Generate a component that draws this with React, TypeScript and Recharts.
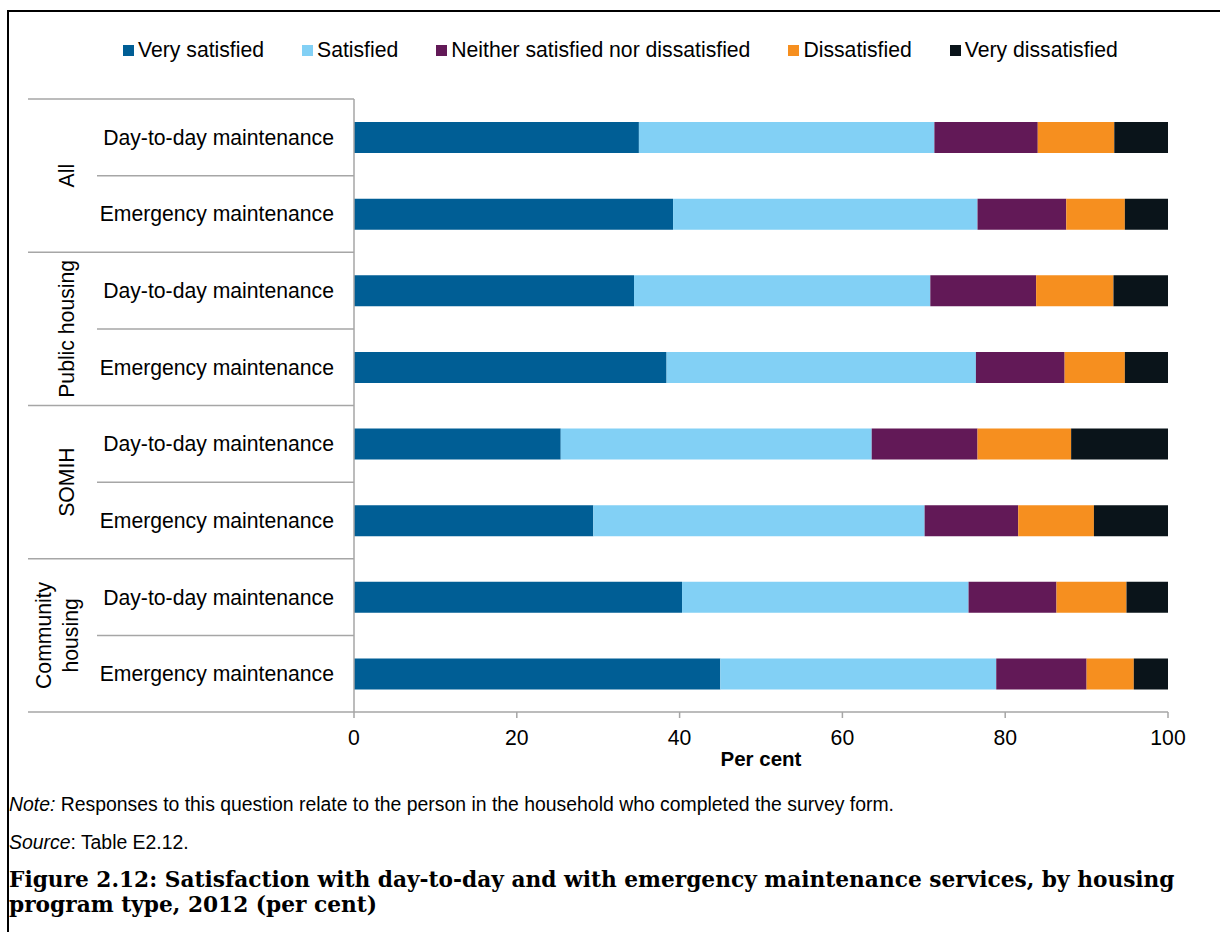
import React from 'react';
import { BarChart, Bar, XAxis, YAxis } from 'recharts';

const groups = ['All', 'Public housing', 'SOMIH', 'Community housing'];
const services = ['Day-to-day maintenance', 'Emergency maintenance'];

const seriesNames = [
  'Very satisfied',
  'Satisfied',
  'Neither satisfied nor dissatisfied',
  'Dissatisfied',
  'Very dissatisfied'
];

// one value per row: All DtD, All Emerg, Public DtD, Public Emerg, SOMIH DtD, SOMIH Emerg, Community DtD, Community Emerg
const verySatisfied = [35.0, 39.2, 34.4, 38.4, 25.4, 29.4, 40.3, 45.0];
const satisfied = [36.3, 37.4, 36.4, 38.0, 38.2, 40.7, 35.2, 33.9];
const neither = [12.7, 10.9, 13.0, 10.9, 13.0, 11.5, 10.8, 11.1];
const dissatisfied = [9.4, 7.2, 9.5, 7.4, 11.5, 9.3, 8.6, 5.8];
const veryDissatisfied = [6.6, 5.3, 6.7, 5.3, 11.9, 9.1, 5.1, 4.2];

const xTicks = [0, 20, 40, 60, 80, 100];

const colors = ['#005E95', '#82D0F5', '#621957', '#F68F1F', '#0A141A'];
const seriesValues = [verySatisfied, satisfied, neither, dissatisfied, veryDissatisfied];
const seriesKeys = ['vs', 's', 'n', 'd', 'vd'];

const data = groups.flatMap((g, gi) =>
  services.map((s, si) => {
    const row: any = { key: `${gi}|${si}|${s}` };
    const idx = gi * services.length + si;
    seriesKeys.forEach((k, ki) => {
      row[k] = seriesValues[ki][idx];
    });
    return row;
  })
);

const FONT = '"Liberation Sans", Arial, sans-serif';
const GRID = '#A6A6A6';
const LABEL_SIZE = 21.2;

const CHART_W = 1220;
const CHART_H = 932;
const PLOT_TOP = 99;
const PLOT_BOTTOM = 712;
const AXIS_X = 354;
const LEFT_EDGE = 28;
const band = (PLOT_BOTTOM - PLOT_TOP) / data.length;

const CategoryTick = (props: any) => {
  const { y, payload } = props;
  const [gi, si, label] = String(payload.value).split('|');
  const groupIdx = Number(gi);
  const serviceIdx = Number(si);
  const isLastInGroup = serviceIdx === services.length - 1;
  const lineY = y + band / 2;
  const groupName = groups[groupIdx];
  const groupCenter = y + band / 2;
  return (
    <g>
      <text
        x={334}
        y={y}
        textAnchor="end"
        dominantBaseline="central"
        fontSize={LABEL_SIZE}
        fontFamily={FONT}
        fill="#000"
      >
        {label}
      </text>
      <line
        x1={isLastInGroup ? LEFT_EDGE : 97}
        x2={AXIS_X}
        y1={lineY}
        y2={lineY}
        stroke={GRID}
        strokeWidth={1.5}
      />
      {groupIdx === 0 && serviceIdx === 0 && (
        <line x1={LEFT_EDGE} x2={AXIS_X} y1={y - band / 2} y2={y - band / 2} stroke={GRID} strokeWidth={1.5} />
      )}
      {serviceIdx === 0 &&
        (groupName === 'Community housing' ? (
          <g>
            <text
              transform={`translate(43, ${groupCenter}) rotate(-90)`}
              textAnchor="middle"
              dominantBaseline="central"
              fontSize={LABEL_SIZE}
              fontFamily={FONT}
              fill="#000"
            >
              Community
            </text>
            <text
              transform={`translate(70, ${groupCenter}) rotate(-90)`}
              textAnchor="middle"
              dominantBaseline="central"
              fontSize={LABEL_SIZE}
              fontFamily={FONT}
              fill="#000"
            >
              housing
            </text>
          </g>
        ) : (
          <text
            transform={`translate(66, ${groupCenter}) rotate(-90)`}
            textAnchor="middle"
            dominantBaseline="central"
            fontSize={LABEL_SIZE}
            fontFamily={FONT}
            fill="#000"
          >
            {groupName}
          </text>
        ))}
    </g>
  );
};

export default function App() {
  return (
    <div
      style={{
        position: 'absolute',
        left: 0,
        top: 0,
        width: CHART_W,
        height: CHART_H,
        background: '#fff',
        overflow: 'hidden',
        fontFamily: FONT
      }}
    >
      {/* figure frame */}
      <div
        style={{
          position: 'absolute',
          left: 7,
          top: 10,
          width: 1300,
          height: 1000,
          borderLeft: '2.5px solid #000',
          borderTop: '2.5px solid #000'
        }}
      />
      <div style={{ position: 'absolute', left: 0, top: 0 }}>
        <BarChart
          width={CHART_W}
          height={CHART_H}
          data={data}
          layout="vertical"
          barSize={31}
          margin={{ top: PLOT_TOP, right: CHART_W - 1168, bottom: CHART_H - PLOT_BOTTOM - 62, left: LEFT_EDGE }}
        >
          <XAxis
            type="number"
            domain={[0, 100]}
            ticks={xTicks}
            height={62}
            axisLine={{ stroke: GRID, strokeWidth: 1.5 }}
            tickLine={{ stroke: GRID, strokeWidth: 1.5 }}
            tickSize={6}
            tickMargin={12}
            tick={{ fontSize: LABEL_SIZE, fill: '#000', fontFamily: FONT }}
            label={{
              value: 'Per cent',
              position: 'insideBottom',
              offset: 8,
              style: { fontSize: 20.5, fontWeight: 'bold', fill: '#000', fontFamily: FONT }
            }}
          />
          <YAxis
            type="category"
            dataKey="key"
            width={AXIS_X - LEFT_EDGE}
            axisLine={{ stroke: GRID, strokeWidth: 1.5 }}
            tickLine={false}
            tick={<CategoryTick />}
            interval={0}
          />
          {seriesKeys.map((k, i) => (
            <Bar
              key={k}
              dataKey={k}
              name={seriesNames[i]}
              stackId="a"
              fill={colors[i]}
              isAnimationActive={false}
            />
          ))}
        </BarChart>
      </div>
      {/* legend */}
      <div
        style={{
          position: 'absolute',
          left: 123,
          top: 38,
          display: 'flex',
          alignItems: 'center',
          gap: 38,
          fontSize: LABEL_SIZE,
          color: '#000',
          whiteSpace: 'nowrap'
        }}
      >
        {seriesNames.map((n, i) => (
          <div key={n} style={{ display: 'flex', alignItems: 'center' }}>
            <span style={{ display: 'inline-block', width: 11, height: 11, background: colors[i], marginRight: 4 }} />
            <span>{n}</span>
          </div>
        ))}
      </div>
      {/* notes */}
      <div style={{ position: 'absolute', left: 9, top: 793, fontSize: 19.4, color: '#000', whiteSpace: 'nowrap' }}>
        <i>Note:</i> Responses to this question relate to the person in the household who completed the survey form.
      </div>
      <div style={{ position: 'absolute', left: 9, top: 831, fontSize: 19.4, color: '#000', whiteSpace: 'nowrap' }}>
        <i>Source</i>: Table E2.12.
      </div>
      <div
        style={{
          position: 'absolute',
          left: 9,
          top: 867,
          width: 1210,
          fontSize: 21.7,
          lineHeight: '25px',
          fontWeight: 'bold',
          fontFamily: '"DejaVu Serif", "Liberation Serif", serif',
          color: '#000',
          whiteSpace: 'nowrap'
        }}
      >
        Figure 2.12: Satisfaction with day-to-day and with emergency maintenance services, by housing
        <br />
        program type, 2012 (per cent)
      </div>
    </div>
  );
}
